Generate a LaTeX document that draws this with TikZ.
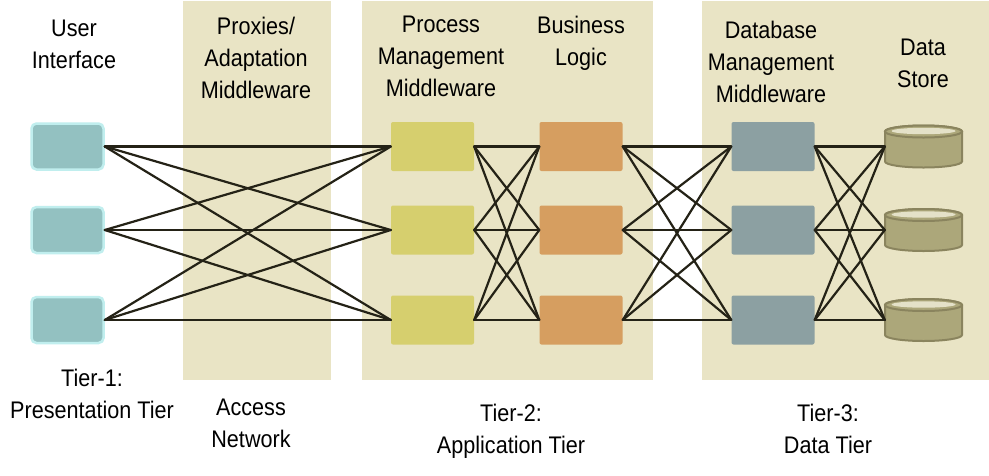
\documentclass[tikz,border=0pt]{standalone}
\usepackage{fontspec}
\setmainfont[FakeStretch=0.9]{Liberation Sans}
\definecolor{panel}{RGB}{233,228,197}
\definecolor{uifill}{RGB}{147,193,193}
\definecolor{uiedge}{RGB}{192,238,238}
\definecolor{pmfill}{RGB}{214,207,110}
\definecolor{blfill}{RGB}{214,158,96}
\definecolor{dbfill}{RGB}{140,160,162}
\definecolor{cylfill}{RGB}{172,167,122}
\definecolor{cyledge}{RGB}{138,132,94}
\definecolor{cyltop}{RGB}{228,225,200}
\definecolor{wire}{RGB}{36,34,22}
\tikzset{
  lbl/.style={font=\fontsize{24}{32}\selectfont, align=center, inner sep=0pt, anchor=north, text=black},
  uibox/.style={draw=uiedge, line width=2.5pt, fill=uifill, rounded corners=5pt, minimum width=72pt, minimum height=46pt, inner sep=0pt},
  tierbox/.style={rounded corners=2pt, minimum width=83pt, minimum height=49pt, inner sep=0pt},
  cylbox/.style={minimum width=77pt, minimum height=42pt, inner sep=0pt},
  conn/.style={draw=wire, line width=2.2pt, line cap=round}
}
\begin{document}
\begin{tikzpicture}[x=1pt,y=-1pt]
\useasboundingbox (0,0) rectangle (989,475);
\fill[white] (0,0) rectangle (989,475);
% panels
\fill[panel] (183,1) rectangle (331,380);
\fill[panel] (362,1) rectangle (653,380);
\fill[panel] (702,1) rectangle (989,380);

% boxes
\node[uibox] (u1) at (67.5,146.5) {};
\node[uibox] (u2) at (67.5,230) {};
\node[uibox] (u3) at (67.5,320) {};

\node[tierbox, fill=pmfill] (p1) at (432.5,146.5) {};
\node[tierbox, fill=pmfill] (p2) at (432.5,230) {};
\node[tierbox, fill=pmfill] (p3) at (432.5,320) {};

\node[tierbox, fill=blfill] (b1) at (581,146.5) {};
\node[tierbox, fill=blfill] (b2) at (581,230) {};
\node[tierbox, fill=blfill] (b3) at (581,320) {};

\node[tierbox, fill=dbfill] (d1) at (773,146.5) {};
\node[tierbox, fill=dbfill] (d2) at (773,230) {};
\node[tierbox, fill=dbfill] (d3) at (773,320) {};

\node[cylbox] (c1) at (923.5,146.5) {};
\node[cylbox] (c2) at (923.5,230) {};
\node[cylbox] (c3) at (923.5,320) {};

\foreach \n in {c1,c2,c3}{
  \begin{scope}[shift={(\n.center)}]
    \filldraw[fill=cylfill, draw=cyledge, line width=2pt]
      (-38.5,-15) -- (-38.5,15) arc[start angle=180, end angle=360, x radius=38.5pt, y radius=6pt]
      -- (38.5,-15) arc[start angle=0, end angle=180, x radius=38.5pt, y radius=6pt] -- cycle;
    \filldraw[fill=cylfill, draw=cyledge, line width=2pt] (0,-15) ellipse[x radius=38.5pt, y radius=6pt];
    \fill[cyltop] (0,-15.5) ellipse[x radius=32pt, y radius=3.2pt];
  \end{scope}
}

% connectors
\foreach \i in {1,2,3}{
  \foreach \j in {1,2,3}{
    \draw[conn] (u\i.east) -- (p\j.west);
    \draw[conn] (p\i.east) -- (b\j.west);
    \draw[conn] (b\i.east) -- (d\j.west);
    \draw[conn] (d\i.east) -- (c\j.west);
  }
}

% labels
\node[lbl] (t-ui) at (74,20) {User\\Interface};
\node[lbl] (t-px) at (256,17) {Proxies/\\Adaptation\\Middleware};
\node[lbl] (t-pm) at (441,16) {Process\\Management\\Middleware};
\node[lbl] (t-bl) at (581,16) {Business\\Logic};
\node[lbl] (t-db) at (771,21) {Database\\Management\\Middleware};
\node[lbl] (t-ds) at (923,39) {Data\\Store};

\node[lbl] (t-t1) at (92,369) {Tier-1:\\Presentation Tier};
\node[lbl] (t-an) at (251,399) {Access\\Network};
\node[lbl] (t-t2) at (511,404) {Tier-2:\\Application Tier};
\node[lbl] (t-t3) at (828,404) {Tier-3:\\Data Tier};
\end{tikzpicture}
\end{document}
